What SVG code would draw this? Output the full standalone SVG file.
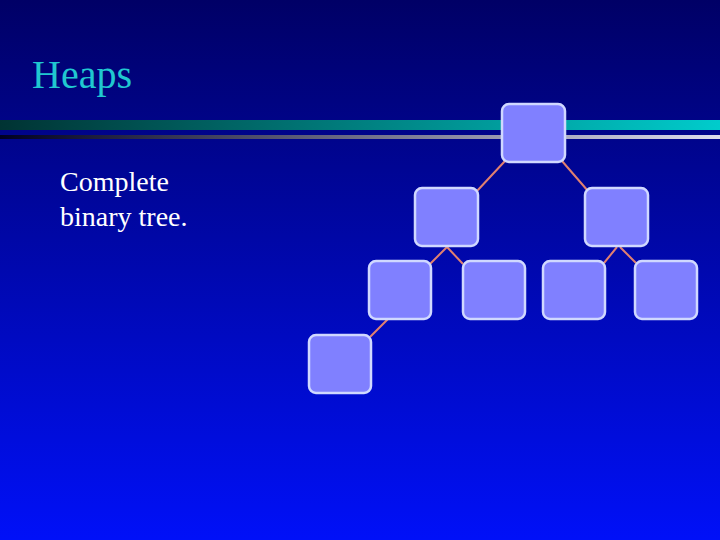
<svg xmlns="http://www.w3.org/2000/svg" width="720" height="540" viewBox="0 0 720 540">
<defs>
<linearGradient id="bg" x1="0" y1="0" x2="0" y2="1"><stop offset="0" stop-color="#000066"/><stop offset="1" stop-color="#0010f8"/></linearGradient>
<linearGradient id="b1" x1="0" y1="0" x2="1" y2="0"><stop offset="0" stop-color="#003333"/><stop offset="1" stop-color="#00cccc"/></linearGradient>
<linearGradient id="b2" x1="0" y1="0" x2="1" y2="0"><stop offset="0" stop-color="#000022"/><stop offset="1" stop-color="#ddddee"/></linearGradient>
<style>
.n{fill:#8080ff;stroke:#d0d8ff;stroke-width:2.5}
.e{stroke:#e08070;stroke-width:2;fill:none}
.t{font-family:"Liberation Serif",serif;fill:#fff}
</style>
</defs>
<rect width="720" height="540" fill="url(#bg)"/>
<rect x="0" y="120" width="720" height="10" fill="url(#b1)"/>
<rect x="0" y="135" width="720" height="4" fill="url(#b2)"/>
<text x="32" y="88" class="t" font-size="40" fill="#00cccc" style="fill:#20c8d0">Heaps</text>
<text x="60" y="191" class="t" font-size="28" style="fill:#ffffff">Complete</text>
<text x="60" y="226" class="t" font-size="28" style="fill:#ffffff">binary tree.</text>
<g id="edges">
<path class="e" d="M505 161L477 191M562 161L588 191M447 247L430 264M447 247L463 264M617 247L604 263M620 247L636 263M388 319L370 337"/>
</g>
<g id="root"><rect class="n" x="502" y="104" width="63" height="58" rx="7"/></g>
<g id="n1"><rect class="n" x="415" y="188" width="63" height="58" rx="7"/></g>
<g id="n2"><rect class="n" x="585" y="188" width="63" height="58" rx="7"/></g>
<g id="n3"><rect class="n" x="369" y="261" width="62" height="58" rx="7"/></g>
<g id="n4"><rect class="n" x="463" y="261" width="62" height="58" rx="7"/></g>
<g id="n5"><rect class="n" x="543" y="261" width="62" height="58" rx="7"/></g>
<g id="n6"><rect class="n" x="635" y="261" width="62" height="58" rx="7"/></g>
<g id="n7"><rect class="n" x="309" y="335" width="62" height="58" rx="7"/></g>
</svg>
